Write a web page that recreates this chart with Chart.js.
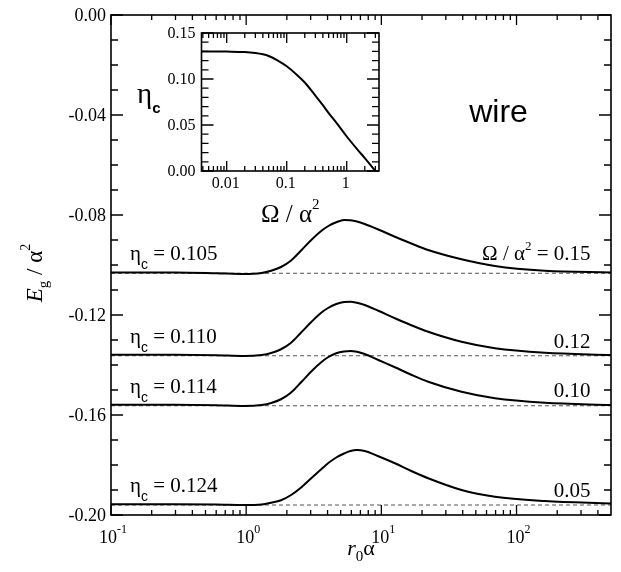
<!DOCTYPE html>
<html>
<head>
<meta charset="utf-8">
<script src="https://cdn.jsdelivr.net/npm/chart.js@4.4.1/dist/chart.umd.min.js"></script>
<style>
  body { margin: 0; background: #fff; }
  #wrap { position: relative; width: 621px; height: 572px; }
  #wrap canvas { position: absolute; left: 0; top: 0; }
</style>
</head>
<body>
<div id="wrap">
  <canvas id="main" width="621" height="572"></canvas>
  <canvas id="inset" width="621" height="572"></canvas>
</div>
<script>
// main panel data: r0*alpha grid and E_g / alpha^2 for each Omega / alpha^2
var r0a = [0.1, 0.3, 0.6, 0.97, 1.3, 1.53, 1.81, 2.15, 2.55, 3.03, 3.59, 4.03, 4.64, 5.3, 5.9, 6.6, 7.53, 9.5, 12.6, 16.5, 22.2, 39.2, 69.2, 162, 500];
var eg015 = [-0.1030, -0.1030, -0.1033, -0.1036, -0.1032, -0.1023, -0.1008, -0.0982, -0.0942, -0.0900, -0.0864, -0.0845, -0.0829, -0.0820, -0.0821, -0.0826, -0.0836, -0.0858, -0.0887, -0.0913, -0.0940, -0.0977, -0.1004, -0.1023, -0.1030];
var eg012 = [-0.1359, -0.1359, -0.1361, -0.1364, -0.1360, -0.1352, -0.1337, -0.1311, -0.1270, -0.1228, -0.1191, -0.1172, -0.1156, -0.1148, -0.1147, -0.1151, -0.1160, -0.1183, -0.1213, -0.1240, -0.1267, -0.1307, -0.1333, -0.1351, -0.1360];
var eg010 = [-0.1559, -0.1559, -0.1561, -0.1564, -0.1560, -0.1552, -0.1537, -0.1510, -0.1469, -0.1426, -0.1389, -0.1369, -0.1353, -0.1346, -0.1344, -0.1347, -0.1356, -0.1380, -0.1409, -0.1438, -0.1467, -0.1507, -0.1533, -0.1551, -0.1560];
var eg005 = [-0.1957, -0.1957, -0.1958, -0.1960, -0.1958, -0.1951, -0.1941, -0.1920, -0.1890, -0.1853, -0.1817, -0.1793, -0.1770, -0.1754, -0.1744, -0.1740, -0.1744, -0.1765, -0.1793, -0.1823, -0.1853, -0.1900, -0.1927, -0.1944, -0.1954];
// large r0 limits (dashed)
var egLimits = [-0.1033, -0.1363, -0.1563, -0.1960];
var etaLabels = ['0.105', '0.110', '0.114', '0.124'];
var omegaLabels = ['0.15', '0.12', '0.10', '0.05'];

// inset data: eta_c vs Omega / alpha^2
var omega = [0.0038, 0.005, 0.01, 0.02, 0.03, 0.04, 0.05, 0.07, 0.1, 0.15, 0.2, 0.3, 0.4, 0.5, 0.7, 1.0, 1.5, 2.0, 2.5, 3.0];
var etaC = [0.1300, 0.1300, 0.1298, 0.1293, 0.1282, 0.1268, 0.1250, 0.1203, 0.1138, 0.1042, 0.0962, 0.0820, 0.0715, 0.0630, 0.0510, 0.0375, 0.0235, 0.0140, 0.0064, 0.0];

// axis ticks
var xMajor = [0.1, 1, 10, 100];
var xExp = ['-1', '0', '1', '2'];
var yMajor = [0, -0.04, -0.08, -0.12, -0.16, -0.20];
var yLabels = ['0.00', '-0.04', '-0.08', '-0.12', '-0.16', '-0.20'];
var insXMajor = [0.01, 0.1, 1];
var insXLabels = ['0.01', '0.1', '1'];
var insYMajor = [0, 0.05, 0.10, 0.15];
var insYLabels = ['0.00', '0.05', '0.10', '0.15'];

var SERIF = '"Liberation Serif", "DejaVu Serif", serif';
var SANS = '"Liberation Sans", Arial, sans-serif';

function pts(xs, ys) {
	return xs.map(function(x, i) { return { x: x, y: ys[i] }; });
}

function logMinors(min, max) {
	var out = [];
	for (var d = Math.pow(10, Math.floor(Math.log10(min))); d < max; d *= 10) {
		for (var k = 2; k <= 9; k++) {
			var v = k * d;
			if (v > min * 1.001 && v < max * 0.999) out.push(v);
		}
	}
	return out;
}

function linMinors(min, max, step) {
	var out = [];
	var n = Math.round((max - min) / step);
	for (var i = 1; i < n; i++) out.push(min + i * step);
	return out;
}

// draws a row of text pieces [text, font, dy]
function rich(ctx, parts, x, y, align) {
	var w = 0;
	parts.forEach(function(p) { ctx.font = p[1]; w += ctx.measureText(p[0]).width; });
	var cx = align === 'right' ? x - w : (align === 'center' ? x - w / 2 : x);
	ctx.textAlign = 'left';
	ctx.textBaseline = 'alphabetic';
	parts.forEach(function(p) {
		ctx.font = p[1];
		ctx.fillText(p[0], cx, y + (p[2] || 0));
		cx += ctx.measureText(p[0]).width;
	});
}

// frame with inward ticks on all four sides
function drawFrame(chart, o) {
	var ctx = chart.ctx, a = chart.chartArea;
	var xs = chart.scales.x, ys = chart.scales.y;
	ctx.save();
	ctx.strokeStyle = '#000';
	ctx.lineWidth = 1.3;
	ctx.beginPath();
	function xt(v, len) {
		var p = xs.getPixelForValue(v);
		ctx.moveTo(p, a.bottom); ctx.lineTo(p, a.bottom - len);
		ctx.moveTo(p, a.top); ctx.lineTo(p, a.top + len);
	}
	function yt(v, len) {
		var p = ys.getPixelForValue(v);
		ctx.moveTo(a.left, p); ctx.lineTo(a.left + len, p);
		ctx.moveTo(a.right, p); ctx.lineTo(a.right - len, p);
	}
	o.xMajor.forEach(function(v) { xt(v, o.xMajLen); });
	o.xMinor.forEach(function(v) { xt(v, o.xMinLen); });
	o.yMajor.forEach(function(v) { yt(v, o.yMajLen); });
	o.yMinor.forEach(function(v) { yt(v, o.yMinLen); });
	ctx.stroke();
	ctx.lineWidth = 1.6;
	ctx.strokeRect(a.left, a.top, a.right - a.left, a.bottom - a.top);
	ctx.restore();
}

/*-------------------------------------------------------------------------*/
// Main panel
/*-------------------------------------------------------------------------*/
var mainSets = [
	{ data: pts(r0a, eg015) },
	{ data: pts(r0a, eg012) },
	{ data: pts(r0a, eg010) },
	{ data: pts(r0a, eg005) }
].map(function(d) {
	d.borderColor = '#000';
	d.borderWidth = 2;
	d.pointRadius = 0;
	d.cubicInterpolationMode = 'monotone';
	d.order = 1;
	return d;
});
egLimits.forEach(function(v) {
	mainSets.push({
		data: [{ x: 0.1, y: v }, { x: 500, y: v }],
		borderColor: '#555',
		borderWidth: 1.2,
		borderDash: [4, 3],
		pointRadius: 0,
		order: 2
	});
});

// label anchors in data coordinates
var leftLabelY = [-0.0980, -0.1311, -0.1513, -0.1907];
var rightLabelY = [-0.0980, -0.1332, -0.1528, -0.1928];

var mainPlugin = {
	id: 'mainDecor',
	beforeDraw: function(chart) {
		var ctx = chart.ctx;
		ctx.save();
		ctx.fillStyle = '#fff';
		ctx.fillRect(0, 0, chart.width, chart.height);
		ctx.restore();
	},
	afterDraw: function(chart) {
		var ctx = chart.ctx, a = chart.chartArea;
		var xs = chart.scales.x, ys = chart.scales.y;
		drawFrame(chart, {
			xMajor: xMajor, xMinor: logMinors(0.1, 500), xMajLen: 10, xMinLen: 5,
			yMajor: yMajor, yMinor: linMinors(-0.2, 0, 0.01), yMajLen: 12, yMinLen: 7
		});
		ctx.save();
		ctx.fillStyle = '#000';
		// y tick labels
		ctx.font = '18px ' + SERIF;
		ctx.textAlign = 'right';
		ctx.textBaseline = 'middle';
		yMajor.forEach(function(v, i) {
			ctx.fillText(yLabels[i], a.left - 5, ys.getPixelForValue(v) + 1);
		});
		// x tick labels 10^n
		xMajor.forEach(function(v, i) {
			rich(ctx, [['10', '18px ' + SERIF, 0], [xExp[i], '12px ' + SERIF, -10]],
				xs.getPixelForValue(v) + 2, a.bottom + 28, 'center');
		});
		// axis titles
		rich(ctx, [['r', 'italic 22px ' + SERIF, 0], ['0', '15px ' + SERIF, 6], ['\u03b1', '22px ' + SERIF, 0]],
			(a.left + a.right) / 2, a.bottom + 40, 'center');
		ctx.save();
		ctx.translate(42, (a.top + a.bottom) / 2 + 8);
		ctx.rotate(-Math.PI / 2);
		rich(ctx, [['E', 'italic 23px ' + SERIF, 0], ['g', '15px ' + SERIF, 6], [' / \u03b1', '23px ' + SERIF, 0], ['2', '14px ' + SERIF, -12]],
			0, 0, 'center');
		ctx.restore();
		// curve labels
		var lx = xs.getPixelForValue(0.138);
		var rx = xs.getPixelForValue(353);
		etaLabels.forEach(function(t, i) {
			var y = ys.getPixelForValue(leftLabelY[i]);
			rich(ctx, [['\u03b7', '21px ' + SERIF, 0], ['c', '14px ' + SANS, 9], [' = ' + t, '21px ' + SERIF, 0]], lx, y, 'left');
		});
		omegaLabels.forEach(function(t, i) {
			var y = ys.getPixelForValue(rightLabelY[i]);
			if (i === 0) {
				rich(ctx, [['\u03a9 / \u03b1', '21px ' + SERIF, 0], ['2', '13px ' + SERIF, -10], [' = ' + t, '21px ' + SERIF, 0]], rx, y, 'right');
			} else {
				rich(ctx, [[t, '21px ' + SERIF, 0]], rx, y, 'right');
			}
		});
		ctx.font = '32px ' + SANS;
		ctx.textAlign = 'center';
		ctx.textBaseline = 'alphabetic';
		ctx.fillText('wire', xs.getPixelForValue(73.6), ys.getPixelForValue(-0.0427));
		ctx.restore();
	}
};

new Chart(document.getElementById('main'), {
	type: 'line',
	data: { datasets: mainSets },
	options: {
		responsive: false,
		animation: false,
		layout: { padding: { left: 111, right: 10, top: 15, bottom: 57 } },
		scales: {
			x: { type: 'logarithmic', min: 0.1, max: 500, display: false },
			y: { type: 'linear', min: -0.2, max: 0, display: false }
		},
		plugins: { legend: { display: false }, tooltip: { enabled: false } }
	},
	plugins: [mainPlugin]
});

/*-------------------------------------------------------------------------*/
// Inset
/*-------------------------------------------------------------------------*/
var insetPlugin = {
	id: 'insetDecor',
	beforeDraw: function(chart) {
		var ctx = chart.ctx, a = chart.chartArea;
		ctx.save();
		ctx.fillStyle = '#fff';
		ctx.fillRect(a.left, a.top, a.right - a.left, a.bottom - a.top);
		ctx.restore();
	},
	afterDraw: function(chart) {
		var ctx = chart.ctx, a = chart.chartArea;
		var xs = chart.scales.x, ys = chart.scales.y;
		drawFrame(chart, {
			xMajor: insXMajor, xMinor: logMinors(0.0038, 3.45), xMajLen: 10, xMinLen: 5,
			yMajor: insYMajor, yMinor: linMinors(0, 0.15, 0.01), yMajLen: 12, yMinLen: 7
		});
		ctx.save();
		ctx.fillStyle = '#000';
		ctx.font = '16px ' + SERIF;
		ctx.textAlign = 'right';
		ctx.textBaseline = 'middle';
		insYMajor.forEach(function(v, i) {
			ctx.fillText(insYLabels[i], a.left - 6, ys.getPixelForValue(v) + 1);
		});
		ctx.textAlign = 'center';
		ctx.textBaseline = 'alphabetic';
		insXMajor.forEach(function(v, i) {
			ctx.fillText(insXLabels[i], xs.getPixelForValue(v) - 1, a.bottom + 17);
		});
		rich(ctx, [['\u03a9 / \u03b1', '25px ' + SERIF, 0], ['2', '15px ' + SERIF, -13]],
			(a.left + a.right) / 2, a.bottom + 51, 'center');
		rich(ctx, [['\u03b7', '29px ' + SERIF, 0], ['c', 'bold 15px ' + SANS, 10]], 137, 103, 'left');
		ctx.restore();
	}
};

new Chart(document.getElementById('inset'), {
	type: 'line',
	data: {
		datasets: [{
			data: pts(omega, etaC),
			borderColor: '#000',
			borderWidth: 2,
			pointRadius: 0,
			cubicInterpolationMode: 'monotone'
		}]
	},
	options: {
		responsive: false,
		animation: false,
		layout: { padding: { left: 201.5, right: 242, top: 33, bottom: 401 } },
		scales: {
			x: { type: 'logarithmic', min: 0.0038, max: 3.45, display: false },
			y: { type: 'linear', min: 0, max: 0.15, display: false }
		},
		plugins: { legend: { display: false }, tooltip: { enabled: false } }
	},
	plugins: [insetPlugin]
});
</script>
</body>
</html>
